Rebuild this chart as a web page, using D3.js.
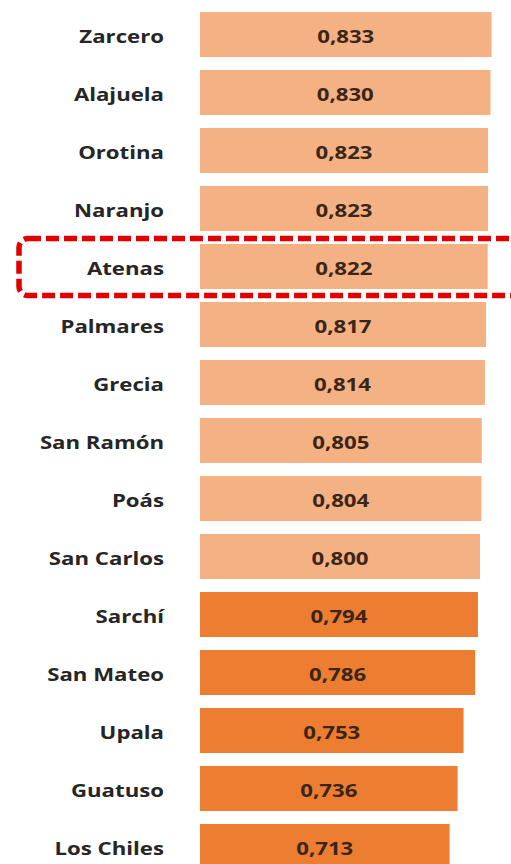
<!DOCTYPE html>
<html>
<head>
<meta charset="utf-8">
<script src="https://cdn.jsdelivr.net/npm/d3@7"></script>
<style>
  html, body { margin: 0; padding: 0; background: #fff; }
  svg { display: block; }
</style>
</head>
<body>
<div id="chart"></div>
<script>

// cantones y su valor del índice
const cantones = ["Zarcero", "Alajuela", "Orotina", "Naranjo", "Atenas", "Palmares", "Grecia",
                  "San Ramón", "Poás", "San Carlos", "Sarchí", "San Mateo", "Upala", "Guatuso", "Los Chiles"]
const valores = [0.833, 0.830, 0.823, 0.823, 0.822, 0.817, 0.814,
                 0.805, 0.804, 0.800, 0.794, 0.786, 0.753, 0.736, 0.713]
const destacado = "Atenas"
const corte = 0.8   // desde aquí en adelante color claro

var width = 511,
    height = 864

var svg = d3.select("#chart").append("svg")
    .attr("width", width)
    .attr("height", height)

var x = d3.scaleLinear()
    .domain([0, 1])
    .range([200, 550])

var y = d3.scaleBand()
    .domain(cantones)
    .range([5.5, 5.5 + 58 * cantones.length])
    .paddingInner(0.224)
    .paddingOuter(0.112)

var fmt = v => d3.format(".3f")(v).replace(".", ",")

var stretch = 1.2   // el texto original viene ensanchado

var filas = svg.selectAll("g.fila")
    .data(cantones.map((c, i) => ({ canton: c, valor: valores[i] })))
    .enter().append("g")
    .attr("class", "fila")

filas.append("rect")
    .attr("x", x(0))
    .attr("y", d => y(d.canton))
    .attr("width", d => x(d.valor) - x(0))
    .attr("height", y.bandwidth())
    .attr("fill", d => d.valor >= corte ? "#F4B183" : "#ED7D31")

filas.append("g")
    .attr("transform", d => `translate(164,${y(d.canton) + y.bandwidth() / 2 + 2}) scale(${stretch},1)`)
  .append("text")
    .attr("dy", "0.36em")
    .attr("text-anchor", "end")
    .attr("font-family", "'Open Sans', sans-serif")
    .attr("font-weight", "bold")
    .attr("font-size", 18.5)
    .attr("fill", "#262626")
    .text(d => d.canton)

filas.append("g")
    .attr("transform", d => `translate(${(x(0) + x(d.valor)) / 2},${y(d.canton) + y.bandwidth() / 2 + 2}) scale(${stretch},1)`)
  .append("text")
    .attr("dy", "0.36em")
    .attr("text-anchor", "middle")
    .attr("font-family", "'Open Sans', sans-serif")
    .attr("font-weight", "bold")
    .attr("font-size", 18.5)
    .attr("fill", "#3a2618")
    .text(d => fmt(d.valor))

// recuadro punteado alrededor del cantón destacado
var yc = y(destacado) + y.bandwidth() / 2

svg.append("rect")
    .attr("x", 19)
    .attr("y", yc - 28)
    .attr("width", 520)
    .attr("height", 57)
    .attr("rx", 9)
    .attr("fill", "none")
    .attr("stroke", "#E00000")
    .attr("stroke-width", 5.5)
    .attr("stroke-dasharray", "13,5")

</script>
</body>
</html>
